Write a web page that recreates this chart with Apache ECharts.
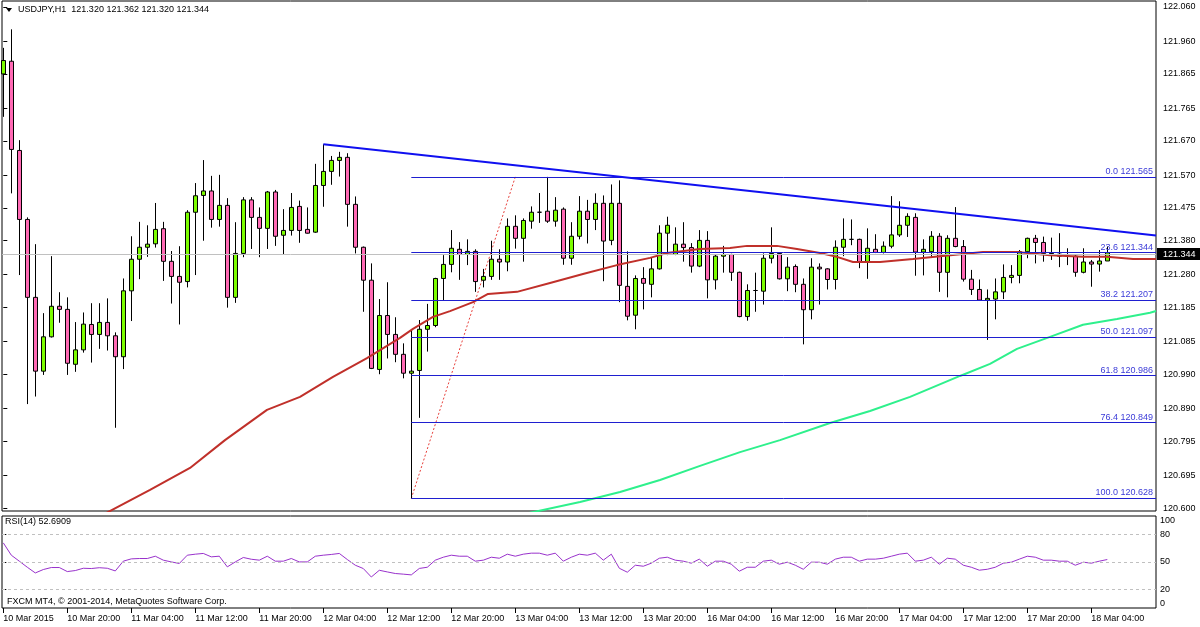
<!DOCTYPE html>
<html><head><meta charset="utf-8">
<script src="https://cdn.jsdelivr.net/npm/echarts@6/dist/echarts.min.js"></script>
<style>html,body{margin:0;padding:0;background:#fff}#c{width:1200px;height:627px}</style>
</head><body><div id="c"></div>
<script>
// ---------------- data ----------------
const symbolTitle = 'USDJPY,H1  121.320 121.362 121.320 121.344';
const rsiTitle = 'RSI(14) 52.6909';
const copyright = 'FXCM MT4, \u00a9 2001-2014, MetaQuotes Software Corp.';

const openP = [121.865,121.902,121.642,121.441,121.214,120.999,121.099,121.188,121.179,121.019,
121.061,121.135,121.106,121.141,121.102,121.041,121.233,121.325,121.360,121.370,
121.414,121.319,121.275,121.260,121.462,121.511,121.524,121.441,121.482,121.214,
121.342,121.498,121.447,121.415,121.521,121.395,121.409,121.479,121.412,121.404,
121.540,121.581,121.613,121.622,121.485,121.360,121.264,121.004,121.161,121.106,
121.048,120.993,121.001,121.121,121.132,121.269,121.310,121.354,121.339,121.348,
121.264,121.275,121.325,121.317,121.421,121.386,121.436,121.462,121.465,121.436,
121.471,121.328,121.392,121.465,121.441,121.488,121.380,121.488,121.246,121.162,
121.269,121.252,121.297,121.401,121.339,121.369,121.359,121.305,121.380,121.265,
121.334,121.339,121.287,121.158,121.234,121.232,121.328,121.342,121.268,121.304,
121.252,121.178,121.302,121.297,121.266,121.360,121.383,121.383,121.316,121.354,
121.345,121.363,121.396,121.424,121.447,121.346,121.347,121.392,121.287,121.386,
121.362,121.267,121.237,121.206,121.209,121.230,121.272,121.278,121.347,121.386,
121.374,121.342,121.340,121.334,121.334,121.287,121.317,121.311,121.320];
const highP = [121.941,121.995,121.672,121.447,121.369,121.168,121.334,121.229,121.214,121.142,
121.170,121.197,121.197,121.211,121.112,121.269,121.392,121.434,121.424,121.489,
121.434,121.349,121.363,121.468,121.547,121.614,121.568,121.571,121.503,121.433,
121.506,121.506,121.476,121.524,121.527,121.471,121.518,121.496,121.476,121.603,
121.660,121.626,121.638,121.634,121.508,121.362,121.313,121.209,121.258,121.156,
121.080,121.121,121.148,121.195,121.271,121.337,121.410,121.375,121.383,121.354,
121.297,121.379,121.354,121.444,121.453,121.444,121.479,121.518,121.565,121.506,
121.476,121.433,121.509,121.498,121.517,121.511,121.543,121.555,121.348,121.278,
121.302,121.331,121.424,121.449,121.418,121.433,121.372,121.410,121.407,121.339,
121.364,121.341,121.289,121.252,121.286,121.342,121.418,121.344,121.331,121.310,
121.269,121.328,121.313,121.299,121.380,121.444,121.441,121.385,121.415,121.398,
121.377,121.509,121.494,121.459,121.459,121.383,121.407,121.401,121.395,121.477,
121.381,121.294,121.266,121.237,121.269,121.310,121.308,121.352,121.388,121.396,
121.391,121.388,121.401,121.357,121.337,121.357,121.323,121.352,121.362];
const lowP = [121.740,121.517,121.279,120.903,120.925,120.988,121.097,121.140,120.988,120.997,
121.053,121.024,121.064,121.059,120.834,121.005,121.145,121.267,121.332,121.359,
121.262,121.196,121.135,121.243,121.279,121.379,121.417,121.420,121.184,121.198,
121.331,121.355,121.331,121.355,121.364,121.338,121.394,121.373,121.400,121.402,
121.478,121.542,121.566,121.420,121.342,121.172,121.005,120.990,121.036,121.025,
120.978,120.628,120.863,121.056,121.127,121.206,121.287,121.265,121.308,121.230,
121.243,121.265,121.265,121.290,121.356,121.318,121.414,121.431,121.431,121.420,
121.309,121.309,121.383,121.371,121.410,121.261,121.366,121.200,121.147,121.121,
121.179,121.214,121.295,121.337,121.337,121.318,121.286,121.302,121.211,121.237,
121.286,121.262,121.156,121.146,121.172,121.193,121.313,121.266,121.232,121.229,
121.077,121.150,121.193,121.237,121.237,121.334,121.366,121.299,121.268,121.343,
121.342,121.357,121.390,121.390,121.277,121.278,121.332,121.230,121.214,121.360,
121.260,121.221,121.204,121.090,121.150,121.209,121.255,121.255,121.328,121.313,
121.318,121.323,121.302,121.308,121.274,121.284,121.245,121.289,121.320];
const closeP = [121.904,121.645,121.441,121.214,120.999,121.099,121.188,121.179,121.022,121.061,
121.136,121.106,121.141,121.102,121.041,121.233,121.325,121.360,121.369,121.412,
121.319,121.275,121.258,121.462,121.510,121.524,121.441,121.482,121.214,121.342,
121.498,121.447,121.415,121.521,121.392,121.409,121.476,121.409,121.401,121.540,
121.581,121.613,121.622,121.485,121.360,121.264,121.007,121.161,121.106,121.048,
120.993,120.999,121.121,121.132,121.269,121.310,121.357,121.339,121.348,121.260,
121.275,121.325,121.317,121.421,121.386,121.438,121.462,121.462,121.436,121.468,
121.328,121.392,121.465,121.441,121.488,121.378,121.488,121.249,121.159,121.269,
121.255,121.297,121.401,121.424,121.369,121.359,121.305,121.380,121.265,121.334,
121.339,121.287,121.158,121.234,121.234,121.328,121.342,121.268,121.302,121.252,
121.178,121.302,121.297,121.266,121.360,121.383,121.383,121.316,121.357,121.345,
121.363,121.396,121.424,121.450,121.346,121.354,121.392,121.287,121.386,121.362,
121.267,121.237,121.206,121.211,121.230,121.272,121.278,121.347,121.386,121.374,
121.342,121.340,121.334,121.334,121.287,121.317,121.311,121.320,121.344];

// moving averages: [bar index, price]
const maRed = [[12,120.575],[18.34,120.653],[23.34,120.717],[27.71,120.798],[32.96,120.886],[37.09,120.924],
[41.21,120.982],[45.46,121.037],[49.59,121.096],[51.21,121.122],[53.71,121.157],[55.84,121.174],[58.71,121.200],
[60.59,121.224],[64.21,121.230],[68.34,121.256],[72.46,121.282],[76.71,121.308],[80.84,121.329],[82.96,121.343],
[87.09,121.355],[90.84,121.358],[92.96,121.364],[96.71,121.364],[99.21,121.355],[102.09,121.343],[104.21,121.332],
[106.21,121.317],[109.59,121.317],[113.71,121.326],[117.09,121.334],[119.96,121.340],[122.46,121.346],[126.71,121.346],
[130.84,121.337],[134.96,121.332],[137.96,121.332],[141.21,121.326],[144.09,121.326]];
const maGreen = [[64.6,120.580],[72.09,120.618],[77.09,120.647],[82.09,120.682],[87.09,120.723],[92.09,120.763],
[97.09,120.798],[103.34,120.848],[108.34,120.883],[113.34,120.924],[119.59,120.985],[123.34,121.020],[126.71,121.064],
[130.84,121.099],[134.96,121.134],[139.21,121.151],[143.34,121.169],[144.09,121.174]];

// RSI(14), one value per bar
const rsiValues = [70.8,57.4,50.9,44.3,38.1,41.8,44,44,39.6,40.7,
43.2,42.9,43.8,43.2,40.3,50.9,53.4,53.8,53.8,56.3,
52,50.1,48.4,57.4,58.5,59.3,55.6,56.3,44.7,50.1,
54.9,53,52,56.3,50.9,50.9,53.8,50.1,50.1,56.3,
57.4,58.2,59.3,52.7,46.5,42.9,33.7,41,39.2,37.5,
36.8,36.0,43,44.3,52,55.2,57.4,56.3,56.3,50.9,
52,55.2,54.1,58.5,56.3,58.5,59.6,59.6,57.4,59.6,
50.9,55.2,58.5,57.4,59.6,52,58.5,43.2,38.9,46.5,
45.4,48.7,54.1,55.2,52,50.9,48.7,53.1,45.4,50.9,
50.9,47.6,40,44.3,44.3,50.9,52,47.6,49.8,46.5,
42.1,49.8,49.8,47.6,53.1,55.2,55.2,50.9,53.1,53.1,
54.1,56.3,58.5,59.6,50.9,52,55.2,47.6,54.1,53.1,
46.5,44.3,41.1,42.1,44.3,48.7,49.8,53.1,56.3,55.2,
52,52,50.9,50.9,46.5,49.8,48.7,50.9,52.69];
const rsiLevels = [80, 50, 20];
const rsiAxisValues = [0, 20, 50, 80, 100];

const priceTicks = [122.060,121.960,121.865,121.765,121.670,121.570,121.475,121.380,121.280,121.185,
121.085,120.990,120.890,120.795,120.695,120.600];
const timeTickLabels = ['10 Mar 2015','10 Mar 20:00','11 Mar 04:00','11 Mar 12:00','11 Mar 20:00','12 Mar 04:00',
'12 Mar 12:00','12 Mar 20:00','13 Mar 04:00','13 Mar 12:00','13 Mar 20:00','16 Mar 04:00','16 Mar 12:00',
'16 Mar 20:00','17 Mar 04:00','17 Mar 12:00','17 Mar 20:00','18 Mar 04:00'];
const barsPerTimeTick = 8;

const fibLevels = [0.0, 23.6, 38.2, 50.0, 61.8, 76.4, 100.0];
const fibPrices = [121.565, 121.344, 121.207, 121.097, 120.986, 120.849, 120.628];
const fibAnchors = [[51, 120.628], [64, 121.565]];
const trendLine = [[40, 121.660], [144.09, 121.394]];
const lastPrice = 121.344;

// ---------------- chart ----------------
const FONT = 'Liberation Sans';
const X_MIN = -0.1625, X_MAX = 144.0875;
const Y_MIN = 120.5915, Y_MAX = 122.0775;

const candles = openP.map((o, i) => [i, o, closeP[i], lowP[i], highP[i]]);
const rsiPts = rsiValues.map((v, i) => [i, v]);
const timeTickIdx = timeTickLabels.map((_, i) => i * barsPerTimeTick);

const chart = echarts.init(document.getElementById('c'), null, {renderer: 'canvas'});
const txt = {fontFamily: FONT, fontSize: 9, color: '#000'};

chart.setOption({
  animation: false,
  backgroundColor: '#fff',
  grid: [
    {left: 2, top: 1, width: 1154, height: 510, show: true, borderColor: '#000', borderWidth: 1, backgroundColor: 'transparent'},
    {left: 2, top: 516, width: 1154, height: 92, show: true, borderColor: '#000', borderWidth: 1, backgroundColor: 'transparent'}
  ],
  xAxis: [
    {type: 'value', gridIndex: 0, min: X_MIN, max: X_MAX, axisLine: {show: false}, axisTick: {show: false},
     axisLabel: {show: false}, splitLine: {show: false}},
    {type: 'value', gridIndex: 1, min: X_MIN, max: X_MAX, axisLine: {show: false},
     axisTick: {show: true, customValues: timeTickIdx, length: 5, lineStyle: {color: '#000'}},
     axisLabel: Object.assign({customValues: timeTickIdx, align: 'left', margin: 6,
       formatter: v => timeTickLabels[Math.round(v / barsPerTimeTick)]}, txt),
     splitLine: {show: false}}
  ],
  yAxis: [
    {type: 'value', gridIndex: 0, position: 'right', min: Y_MIN, max: Y_MAX, axisLine: {show: false},
     axisTick: {show: true, customValues: priceTicks, length: 4, lineStyle: {color: '#000'}},
     axisLabel: Object.assign({customValues: priceTicks, margin: 7, formatter: v => v.toFixed(3)}, txt),
     splitLine: {show: false}},
    {type: 'value', gridIndex: 1, position: 'right', min: 0, max: 100, axisLine: {show: false},
     axisTick: {show: true, customValues: rsiLevels, length: 3, lineStyle: {color: '#000'}},
     axisLabel: Object.assign({customValues: rsiAxisValues, margin: 4,
       verticalAlignMinLabel: 'bottom', verticalAlignMaxLabel: 'top'}, txt),
     splitLine: {show: false}}
  ],
  series: [
    {name: 'bid', type: 'line', xAxisIndex: 0, yAxisIndex: 0, z: 1, data: [[openP.length - 1, lastPrice]],
     showSymbol: false, symbol: 'none', lineStyle: {opacity: 0}, silent: true,
     markLine: {silent: true, symbol: 'none', animation: false,
       lineStyle: {color: '#c0c0c0', width: 1, type: 'solid'},
       label: {show: true, position: 'end', distance: 1, formatter: () => lastPrice.toFixed(3),
         backgroundColor: '#000', color: '#fff', padding: [2, 6, 1, 6], fontFamily: FONT, fontSize: 9},
       data: [{yAxis: lastPrice}]}},
    {name: 'fib', type: 'line', xAxisIndex: 0, yAxisIndex: 0, z: 2, data: fibAnchors,
     symbol: 'none', lineStyle: {color: '#e8413c', width: 1, type: [2, 2]}, silent: true,
     markLine: {silent: true, symbol: 'none', animation: false,
       lineStyle: {color: '#1f1fd0', width: 1, type: 'solid'},
       label: {show: true, position: 'insideEndTop', distance: [3, 1], color: '#3b3bd8', fontFamily: FONT, fontSize: 9},
       data: fibPrices.map((p, i) => [
         {coord: [fibAnchors[0][0], p], label: {formatter: fibLevels[i].toFixed(1) + ' ' + p.toFixed(3)}},
         {coord: [X_MAX, p]}])}},
    {name: 'USDJPY', type: 'candlestick', xAxisIndex: 0, yAxisIndex: 0, z: 3, data: candles,
     barWidth: 4, clip: true,
     itemStyle: {color: '#7cfc00', color0: '#ff69b4', borderColor: '#000', borderColor0: '#000', borderWidth: 1}},
    {name: 'MA red', type: 'line', xAxisIndex: 0, yAxisIndex: 0, z: 4, data: maRed, symbol: 'none',
     lineStyle: {color: '#c0302a', width: 2}, clip: true},
    {name: 'MA green', type: 'line', xAxisIndex: 0, yAxisIndex: 0, z: 4, data: maGreen, symbol: 'none',
     lineStyle: {color: '#2ef08c', width: 2}, clip: true},
    {name: 'trend', type: 'line', xAxisIndex: 0, yAxisIndex: 0, z: 5, data: trendLine, symbol: 'none',
     lineStyle: {color: '#1010f0', width: 2}, clip: true},
    {name: 'RSI', type: 'line', xAxisIndex: 1, yAxisIndex: 1, z: 3, data: rsiPts, symbol: 'none',
     lineStyle: {color: '#9932cc', width: 1}, clip: true,
     markLine: {silent: true, symbol: 'none', animation: false, label: {show: false},
       lineStyle: {color: '#c0c0c0', width: 1, type: [3, 3]},
       data: rsiLevels.map(v => ({yAxis: v}))}}
  ],
  graphic: [
    {type: 'polygon', shape: {points: [[6, 8], [12, 8], [9, 12]]}, style: {fill: '#000'}},
    {type: 'text', left: 18, top: 5, style: {text: symbolTitle, font: '9px "Liberation Sans"', fill: '#000'}},
    {type: 'text', left: 5, top: 517, style: {text: rsiTitle, font: '9px "Liberation Sans"', fill: '#000'}},
    {type: 'text', left: 7, top: 597, style: {text: copyright, font: '9px "Liberation Sans"', fill: '#000'}}
  ]
});
</script>
</body></html>
